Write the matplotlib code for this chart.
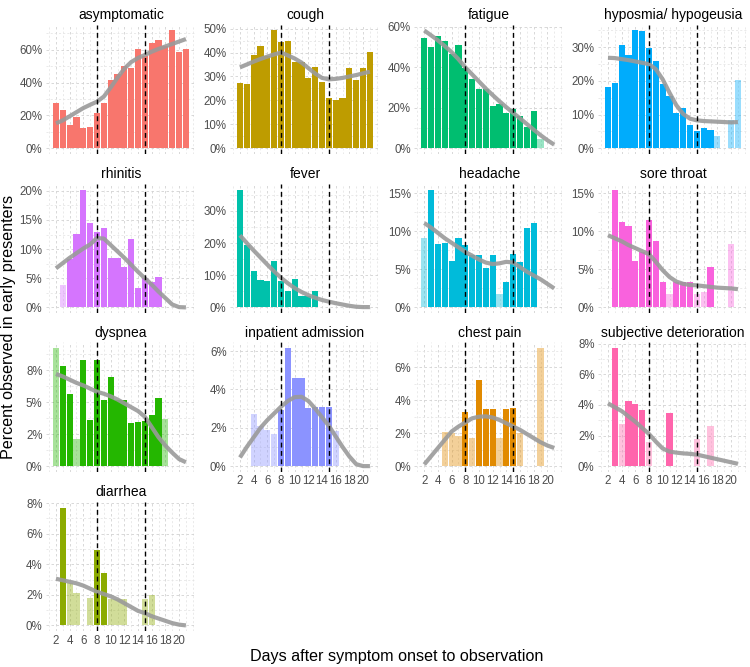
import numpy as np
import matplotlib
matplotlib.use('Agg')
import matplotlib.pyplot as plt

plt.rcParams['font.family'] = ['Liberation Sans', 'DejaVu Sans']

nan = np.nan
days = list(range(2, 22))

# percent observed per day after onset (days 2..21), nan = no bar
asymptomatic = [27.4, 23.3, 14.2, 19.3, 12.4, 13.0, 21.3, 27.6, 41.5, 45.0,
                50.3, 49.0, 60.4, 56.3, 64.2, 65.9, 62.0, 71.7, 58.4, 60.2]
cough = [27.4, 27.0, 39.0, 42.8, 38.6, 49.2, 44.6, 45.0, 36.2, 36.2,
         29.4, 34.0, 27.7, 21.2, 20.2, 21.2, 33.4, 28.7, 33.4, 40.1]
fatigue = [54.5, 49.9, 55.5, 53.0, 46.8, 50.9, 39.7, 34.2, 29.3, 29.3,
           20.7, 22.0, 17.2, 19.2, 15.9, 10.6, 18.3, 4.5, nan, nan]
hyposmia = [18.3, 19.4, 30.8, 27.8, 35.0, 34.8, 29.7, 26.0, 19.2, 15.6,
            10.4, 12.0, 6.9, 5.2, 6.1, 5.3, 3.8, nan, 8.4, 20.2]
rhinitis = [nan, 3.8, 8.3, 12.6, 20.2, 14.4, 13.0, 13.7, 8.5, 8.5,
            6.9, 11.7, 3.4, 5.1, 4.3, 5.2, nan, nan, nan, nan]
fever = [36.6, 19.3, 11.3, 8.5, 8.2, 14.4, 8.2, 5.1, 8.7, 3.5,
         3.5, 5.1, nan, nan, nan, nan, nan, nan, nan, nan]
headache = [9.1, 15.5, 8.3, 8.5, 6.1, 9.1, 8.2, 6.9, 6.9, 5.2,
            6.9, 1.7, 3.4, 7.0, 6.0, 10.5, 11.1, nan, nan, nan]
sore_throat = [nan, 15.5, 11.2, 10.7, 6.1, 7.3, 11.5, 8.7, 3.4, 1.7,
               3.4, 3.4, 3.3, 1.7, 2.0, 5.3, nan, nan, 8.3, nan]
dyspnea = [9.2, 7.8, 5.6, 2.1, 8.25, 3.6, 8.3, 5.2, 6.95, 5.2,
           5.2, 3.4, 3.45, 3.5, 4.0, 5.3, 3.7, nan, nan, nan]
inpatient = [nan, nan, 2.7, 2.1, 1.9, 1.65, 2.95, 6.15, 4.6, 4.6,
             3.05, 3.1, 3.1, 3.1, 1.85, nan, nan, nan, nan, nan]
chest_pain = [nan, nan, nan, 2.1, 2.0, 1.8, 3.3, 1.7, 5.2, 3.45,
              3.45, 1.7, 3.45, 3.5, 2.0, nan, nan, 7.15, nan, nan]
subjective = [nan, 7.7, 2.75, 4.25, 4.05, 3.65, 1.6, nan, nan, 3.45,
              nan, nan, nan, 1.75, nan, 2.6, nan, nan, nan, nan]
diarrhea = [nan, 7.7, 2.75, 2.1, nan, 1.8, 4.9, 3.45, 1.7, 1.7,
            1.7, nan, nan, 1.7, 2.0, nan, nan, nan, nan, nan]

# days drawn faint (few observations)
asymptomatic_faint = []
cough_faint = []
fatigue_faint = [19]
hyposmia_faint = [18, 20, 21]
rhinitis_faint = [3]
fever_faint = []
headache_faint = [2, 13]
sore_throat_faint = [11, 15, 16, 20]
dyspnea_faint = [2, 5, 18]
inpatient_faint = [4, 5, 6, 7, 16]
chest_pain_faint = [5, 6, 7, 9, 13, 16, 19]
subjective_faint = [4, 8, 15, 17]
diarrhea_faint = [4, 5, 7, 10, 11, 12, 15, 16]

# smoothed trend (percent), days 2..21
asymptomatic_smooth = [15.2, 17.0, 19.5, 22.0, 24.5, 26.5, 28.4, 31.5, 37.0, 43.0,
                       48.5, 52.5, 55.0, 56.8, 58.8, 60.5, 62.0, 63.5, 65.0, 66.5]
cough_smooth = [33.8, 35.0, 36.2, 37.3, 38.3, 39.2, 40.0, 38.8, 37.5, 35.8,
                33.5, 31.2, 29.4, 28.8, 29.0, 29.4, 30.0, 30.6, 31.3, 32.0]
fatigue_smooth = [58.2, 55.8, 53.3, 50.5, 47.5, 44.0, 40.0, 36.5, 33.0, 29.5,
                  26.3, 23.2, 20.3, 17.5, 14.8, 12.0, 9.2, 6.5, 4.0, 1.8]
hyposmia_smooth = [26.9, 26.8, 26.5, 26.2, 25.8, 25.4, 25.0, 23.5, 20.5, 16.5,
                   12.8, 10.2, 8.8, 8.3, 8.1, 8.0, 7.9, 7.8, 7.7, 7.8]
rhinitis_smooth = [6.7, 7.6, 8.5, 9.3, 10.1, 10.8, 11.9, 11.8, 10.7, 9.6,
                   8.5, 7.3, 6.1, 5.0, 3.9, 2.7, 1.6, 0.5, 0.05, 0.0]
fever_smooth = [22.4, 20.0, 17.7, 15.5, 13.3, 11.2, 9.2, 7.5, 6.0, 4.8,
                3.8, 3.0, 2.3, 1.8, 1.3, 0.9, 0.5, 0.2, 0.1, 0.1]
headache_smooth = [11.1, 10.5, 9.8, 9.1, 8.5, 7.9, 7.3, 6.8, 6.3, 5.9,
                   5.7, 5.8, 6.0, 5.9, 5.3, 4.7, 4.2, 3.7, 3.1, 2.5]
sore_throat_smooth = [9.5, 9.1, 8.7, 8.2, 7.8, 7.4, 7.0, 6.0, 4.9, 4.0,
                      3.4, 3.1, 2.95, 2.9, 2.8, 2.7, 2.6, 2.55, 2.5, 2.4]
dyspnea_smooth = [7.2, 7.0, 6.75, 6.5, 6.3, 6.05, 5.8, 5.65, 5.45, 5.2,
                  4.9, 4.6, 4.3, 3.85, 3.05, 2.25, 1.6, 1.05, 0.55, 0.3]
inpatient_smooth = [0.45, 1.0, 1.5, 2.0, 2.4, 2.75, 3.1, 3.4, 3.6, 3.62,
                    3.4, 3.0, 2.55, 2.1, 1.55, 1.0, 0.5, 0.1, 0.0, 0.0]
chest_pain_smooth = [0.1, 0.6, 1.1, 1.6, 2.1, 2.4, 2.65, 2.9, 3.0, 3.02,
                     2.95, 2.8, 2.6, 2.4, 2.2, 1.95, 1.7, 1.45, 1.25, 1.1]
subjective_smooth = [4.1, 3.85, 3.6, 3.25, 2.9, 2.5, 2.1, 1.6, 1.15, 0.95,
                     0.88, 0.83, 0.8, 0.75, 0.65, 0.55, 0.45, 0.35, 0.25, 0.15]
diarrhea_smooth = [3.05, 2.95, 2.85, 2.75, 2.6, 2.4, 2.2, 2.05, 1.9, 1.7,
                   1.45, 1.2, 0.95, 0.8, 0.6, 0.45, 0.3, 0.15, 0.05, 0.0]

titles = ['asymptomatic', 'cough', 'fatigue', 'hyposmia/ hypogeusia',
          'rhinitis', 'fever', 'headache', 'sore throat',
          'dyspnea', 'inpatient admission', 'chest pain', 'subjective deterioration',
          'diarrhea']
colors = ['#F8766D', '#BE9C00', '#00BE70', '#00ACFC',
          '#D575FE', '#00C1AB', '#00BBDA', '#F962DD',
          '#24B700', '#8B93FF', '#E18A00', '#FF65AC',
          '#8CAB00']
yticks = [[0, 20, 40, 60], [0, 10, 20, 30, 40, 50], [0, 20, 40, 60], [0, 10, 20, 30],
          [0, 5, 10, 15, 20], [0, 10, 20, 30], [0, 5, 10, 15], [0, 5, 10, 15],
          [0, 2.5, 5, 7.5], [0, 2, 4, 6], [0, 2, 4, 6], [0, 2, 4, 6, 8],
          [0, 2, 4, 6, 8]]
ytick_labels = [['0%', '20%', '40%', '60%'], ['0%', '10%', '20%', '30%', '40%', '50%'],
                ['0%', '20%', '40%', '60%'], ['0%', '10%', '20%', '30%'],
                ['0%', '5%', '10%', '15%', '20%'], ['0%', '10%', '20%', '30%'],
                ['0%', '5%', '10%', '15%'], ['0%', '5%', '10%', '15%'],
                ['0%', '2%', '5%', '8%'], ['0%', '2%', '4%', '6%'], ['0%', '2%', '4%', '6%'],
                ['0%', '2%', '4%', '6%', '8%'], ['0%', '2%', '4%', '6%', '8%']]
bars = [asymptomatic, cough, fatigue, hyposmia, rhinitis, fever, headache,
        sore_throat, dyspnea, inpatient, chest_pain, subjective, diarrhea]
faint = [asymptomatic_faint, cough_faint, fatigue_faint, hyposmia_faint,
         rhinitis_faint, fever_faint, headache_faint, sore_throat_faint,
         dyspnea_faint, inpatient_faint, chest_pain_faint, subjective_faint,
         diarrhea_faint]
smooth = [asymptomatic_smooth, cough_smooth, fatigue_smooth, hyposmia_smooth,
          rhinitis_smooth, fever_smooth, headache_smooth, sore_throat_smooth,
          dyspnea_smooth, inpatient_smooth, chest_pain_smooth, subjective_smooth,
          diarrhea_smooth]
cutoffs = [8, 15]
xticks = list(range(2, 21, 2))

W, H = 750, 667
fig = plt.figure(figsize=(W / 100, H / 100), dpi=100)

# panel geometry in pixels
col_d8 = [97, 281, 465.3, 649]
row_top = [24.6, 183.7, 342.4, 501.7]
px_day = 6.84
xlo, xhi = 0.555, 22.445
pw = (xhi - xlo) * px_day
ph = 129.6

for i, name in enumerate(titles):
    r, c = divmod(i, 4)
    left = col_d8[c] - (8 - xlo) * px_day
    ax = fig.add_axes([left / W, 1 - (row_top[r] + ph) / H, pw / W, ph / H])

    vals = np.array(bars[i], dtype=float)
    alphas = [0.4 if d in faint[i] else 1.0 for d in days]
    for d, v, a in zip(days, vals, alphas):
        if not np.isnan(v):
            ax.bar(d, v, width=0.9, color=colors[i], alpha=a, linewidth=0, zorder=2)

    ax.plot(days, smooth[i], color='#9a9a9a', lw=3, alpha=0.9,
            solid_capstyle='butt', zorder=3)
    for x in cutoffs:
        ax.axvline(x, color='black', lw=1.0, ls=(0, (3.5, 2.5)), zorder=4)

    top = max(np.nanmax(vals), max(smooth[i]))
    ax.set_xlim(xlo, xhi)
    ax.set_ylim(-0.05 * top, 1.05 * top)

    yt = yticks[i]
    step = yt[1] - yt[0]
    ax.set_yticks(yt)
    ax.set_yticklabels(ytick_labels[i])
    ax.set_yticks(np.arange(yt[0] + step / 2, 1.05 * top, step), minor=True)
    ax.set_xticks(xticks)
    ax.set_xticks([1, 3, 5, 7, 9, 11, 13, 15, 17, 19, 21, 22], minor=True)
    if i >= 9:
        ax.set_xticklabels([str(t) for t in xticks])
    else:
        ax.set_xticklabels([])

    ax.grid(True, which='major', color='#d2d2d2', lw=0.6, ls=(0, (3, 3)), zorder=0)
    ax.grid(True, which='minor', color='#e2e2e2', lw=0.5, ls=(0, (3, 3)), zorder=0)
    ax.set_axisbelow(True)
    ax.tick_params(which='both', length=0, labelsize=8.3, labelcolor='#4d4d4d', pad=2.5)
    for s in ax.spines.values():
        s.set_visible(False)
    ax.set_title(name, fontsize=10, pad=4)

fig.text(397 / W, 1 - 656 / H, 'Days after symptom onset to observation',
         ha='center', va='center', fontsize=11.6)
fig.text(9 / W, 1 - 327 / H, 'Percent observed in early presenters',
         ha='center', va='center', rotation=90, fontsize=11.6)

fig.savefig('out.png', dpi=100)
